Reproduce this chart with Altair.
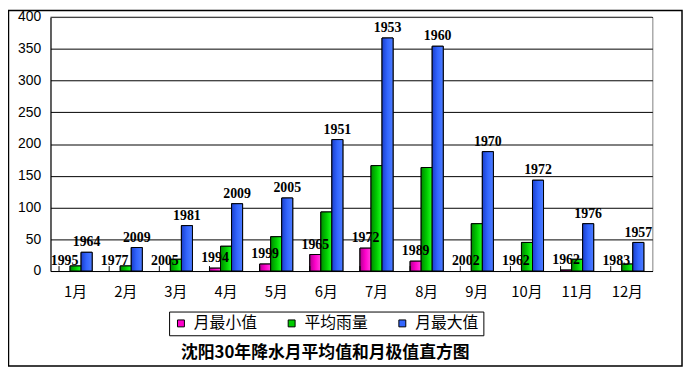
import altair as alt
import pandas as pd

months = ["1月", "2月", "3月", "4月", "5月", "6月", "7月", "8月", "9月", "10月", "11月", "12月"]
series_names = ["月最小值", "平均雨量", "月最大值"]
min_vals = [0, 0, 0, 4.5, 11, 26, 36, 15.5, 0, 0, 1.5, 0]
avg_vals = [8, 8, 18.5, 39, 54, 93, 166, 163, 74.5, 45, 18.5, 11]
max_vals = [29.5, 37, 71.5, 106, 115, 207, 367, 354, 188, 143, 74.5, 45]
min_years = ["1995", "1977", "2005", "1994", "1999", "1965", "1972", "1989", "2002", "1962", "1962", "1983"]
max_years = ["1964", "2009", "1981", "2009", "2005", "1951", "1953", "1960", "1970", "1972", "1976", "1957"]
y_ticks = [0, 50, 100, 150, 200, 250, 300, 350, 400]
title_text = "沈阳30年降水月平均值和月极值直方图"

colors = ["#FF00CC", "#00CC00", "#3366FF"]
dark = ["#B00090", "#008800", "#1A3FCC"]
light = ["#FF44DD", "#22FF22", "#4D7DFF"]

rows = []
for i, m in enumerate(months):
    rows.append({"month": m, "series": series_names[0], "value": min_vals[i], "label": min_years[i]})
    rows.append({"month": m, "series": series_names[1], "value": avg_vals[i], "label": ""})
    rows.append({"month": m, "series": series_names[2], "value": max_vals[i], "label": max_years[i]})
df = pd.DataFrame(rows)

W, H = 609, 257
PL, PT, PR, PB = 43, 7, 31, 97

xaxis = alt.Axis(title=None, labelAngle=0, labelFont="Noto Sans CJK SC",
                 labelFontSize=15, labelColor="black", labelPadding=14,
                 ticks=False, domainColor="black", grid=False)
xscale = alt.Scale(paddingInner=0.34, paddingOuter=0.17)
xenc = alt.X("month:N", sort=months, scale=xscale, axis=xaxis)
xoff = alt.XOffset("series:N", scale=alt.Scale(domain=series_names, paddingInner=0, paddingOuter=0))
yaxis = alt.Axis(title=None, values=y_ticks, labelOverlap=False,
                 labelFont="Liberation Sans", labelFontSize=14, labelColor="black",
                 labelPadding=10, ticks=False, domainColor="black",
                 grid=True, gridColor="black", gridOpacity=1)
yscale = alt.Scale(domain=[0, 400], nice=False, zero=True)
yenc = alt.Y("value:Q", scale=yscale, axis=yaxis)

base = alt.Chart(df)
nz = base.transform_filter(alt.datum.value > 0)

legend_bars = nz.mark_bar(stroke="black", strokeWidth=1).encode(
    x=xenc, xOffset=xoff, y=yenc,
    color=alt.Color("series:N", scale=alt.Scale(domain=series_names, range=colors),
                    legend=alt.Legend(title=None, orient="none", legendX=120, legendY=298,
                                      direction="horizontal", columns=3,
                                      strokeColor="black", padding=4, columnPadding=26,
                                      symbolType="square", symbolSize=49,
                                      symbolStrokeColor="black", symbolStrokeWidth=1,
                                      labelFont="Noto Sans CJK SC", labelFontSize=16,
                                      labelColor="black", labelOffset=5, symbolOpacity=1))
)

grad_layers = []
for i, s in enumerate(series_names):
    g = alt.Gradient(gradient="linear", x1=0, x2=1, y1=0, y2=0,
                     stops=[alt.GradientStop(color=dark[i], offset=0),
                            alt.GradientStop(color=colors[i], offset=0.5),
                            alt.GradientStop(color=light[i], offset=1)])
    grad_layers.append(
        nz.transform_filter(alt.datum.series == s)
        .mark_bar(color=g, stroke="black", strokeWidth=1)
        .encode(x=xenc, xOffset=xoff, y=yenc)
    )

ticks = alt.Chart(pd.DataFrame({"month": months})).mark_rule(color="black").encode(
    x=alt.X("month:N", sort=months, scale=xscale, axis=xaxis, bandPosition=0),
    y=alt.value(H - 5), y2=alt.value(H)
)

tdf = pd.DataFrame({"t": [title_text]})
top_line = alt.Chart(tdf).mark_rule(color="#808080", strokeWidth=1).encode(
    x=alt.value(0), x2=alt.value(W), y=alt.value(0))

labels = base.transform_filter(alt.datum.label != "").mark_text(
    font="Liberation Serif", fontSize=14, fontWeight="bold", color="black",
    baseline="bottom", dy=-3
).encode(x=xenc, xOffset=xoff, y=yenc, text="label:N")

title = alt.Chart(tdf).mark_text(font="Noto Sans CJK SC", fontSize=17, fontWeight="bold",
                                 color="black", baseline="middle", align="center").encode(
    x=alt.value(278), y=alt.value(340), text="t:N")

border = alt.Chart(tdf).mark_rect(fill=None, stroke="black", strokeWidth=1.5).encode(
    x=alt.value(-42.5), x2=alt.value(W + PR - 1), y=alt.value(-6.5), y2=alt.value(H + PB - 1))

chart = alt.layer(legend_bars, *grad_layers, ticks, top_line, labels, title, border).properties(
    width=W, height=H,
    autosize=alt.AutoSizeParams(type="none"),
    padding={"left": PL, "top": PT, "right": PR, "bottom": PB},
    background="white"
).configure_view(stroke="#808080", strokeWidth=1)

chart.save("out.html", embed_options={"renderer": "svg", "actions": False})
